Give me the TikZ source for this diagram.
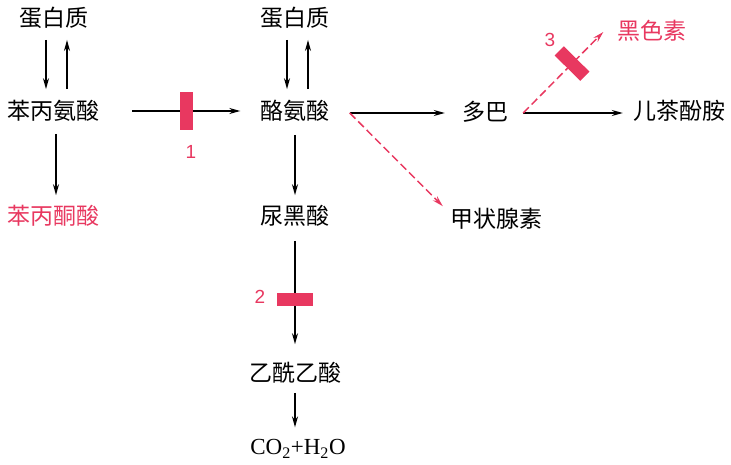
\documentclass[tikz,border=0pt]{standalone}
\usepackage{fontspec}
\setmainfont{Liberation Serif}
\newfontfamily\cjk{Noto Sans CJK SC}
\newfontfamily\numfont{Liberation Sans}
\usetikzlibrary{arrows.meta,positioning}
\definecolor{rose}{RGB}{232,56,96}

\tikzset{
  chem/.style={inner sep=0pt,font=\fontsize{23}{23}\selectfont\cjk},
  flow/.style={-{Stealth[length=11pt,width=6pt]},line width=1.5pt},
  side/.style={flow,rose,dash pattern=on 8pt off 4pt},
  block/.style={fill=rose,inner sep=0pt},
  num/.style={font=\fontsize{19}{19}\selectfont\numfont,text=rose}
}

\begin{document}
\begin{tikzpicture}[x=1pt,y=-1pt]
  \useasboundingbox (0,0) rectangle (731,465);
  \foreach \nm/\x/\y/\txt in {prot1/54/18/蛋白质,phe/54/111/苯丙氨酸,prot2/295/18/蛋白质,
      tyr/295/111/酪氨酸,hga/295/216/尿黑酸,aaa/295/373/乙酰乙酸,dopa/485/112/多巴,
      cat/679/111/儿茶酚胺,thy/496/219/甲状腺素}
    \node[chem] (\nm) at (\x,\y) {\txt};
  \node[chem,text=rose] (ppa) at (54,216) {苯丙酮酸};
  \node[chem,text=rose] (mel) at (652,31) {黑色素};
  \node[inner sep=0pt,font=\fontsize{23}{23}\selectfont] (co2) at (298,449) {CO\textsubscript{2}+H\textsubscript{2}O};

  % protein <-> amino acids
  \foreach \a/\b in {prot1/phe,prot2/tyr}{
    \draw[flow,shorten <=11pt,shorten >=11pt] ([xshift=-8pt]\a.south) -- ([xshift=-8pt]\b.north);
    \draw[flow,shorten <=11pt,shorten >=11pt] ([xshift=13pt]\b.north) -- ([xshift=13pt]\a.south);
  }
  \draw[flow,shorten <=12pt,shorten >=10pt] ([xshift=2pt]phe.south) -- ([xshift=2pt]ppa.north);
  \draw[flow,shorten <=13pt,shorten >=10pt] (tyr.south) -- (hga.north);

  % blocked steps
  \draw[flow,shorten <=32pt,shorten >=20pt] (phe.east) -- (tyr.west)
    node[block,minimum width=13pt,minimum height=38pt,pos=0.54] (b1) {};
  \node[num] (n1) at (191,152) {1};
  \draw[flow,shorten <=14pt,shorten >=18pt] (hga.south) -- (aaa.north)
    node[block,minimum width=36pt,minimum height=13pt,pos=0.54] (b2) {};
  \node[num] (n2) at (260,297) {2};
  \draw[flow,shorten <=9pt,shorten >=12pt] (aaa.south) -- (aaa.south |- co2.north);

  \coordinate (tyrout) at ([xshift=20pt,yshift=-2pt]tyr.east);
  \draw[flow,shorten >=17pt] (tyrout) -- (dopa.west |- tyrout);
  \draw[side] (tyrout) -- ([xshift=-7pt,yshift=2pt]thy.north west);

  \coordinate (dopaout) at ([xshift=15pt,yshift=-1pt]dopa.east);
  \draw[flow,shorten >=10pt] (dopaout) -- (cat.west |- dopaout);
  \draw[side] (dopaout) -- ([xshift=-14pt,yshift=-1pt]mel.west)
    node[block,minimum width=13pt,minimum height=36pt,sloped,pos=0.61] (b3) {};
  \node[num] (n3) at (550,40) {3};
\end{tikzpicture}
\end{document}
